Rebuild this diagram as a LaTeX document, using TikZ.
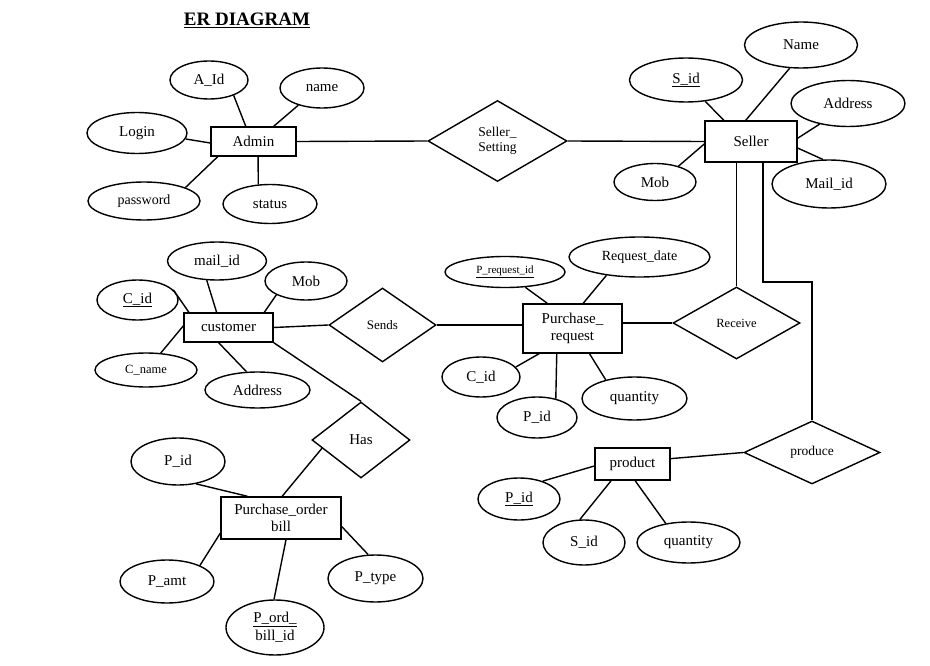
\documentclass[tikz,border=0pt]{standalone}
\usepackage{fontspec}
\setmainfont{Liberation Serif}
\usetikzlibrary{shapes.geometric}
\begin{document}
\begin{tikzpicture}[x=1pt,y=-1pt,line width=1.4pt,
  every node/.style={font=\fontsize{15}{17}\selectfont},
  fs/.style={font=\fontsize{#1}{15}\selectfont},
  dims/.style 2 args={minimum width=#1pt, minimum height=#2pt},
  ent/.style={draw, rectangle, inner sep=0pt, align=center},
  attr/.style={draw, ellipse, inner sep=0pt, align=center},
  rel/.style={draw, diamond, inner sep=0pt, aspect=1.7, align=center}]
\useasboundingbox (0,0) rectangle (930,666);

% title
\node[font=\fontsize{19}{21}\selectfont\bfseries] (title) at (247,20) {\underline{ER DIAGRAM}};

% Admin
\node[ent, dims={85}{29}] (admin) at (253.5,141.5) {Admin};
\node[attr, dims={78}{38}] (aid) at (209,80) {A\_Id};
\node[attr, dims={84}{40}] (aname) at (322,88) {name};
\node[attr, dims={100}{41}] (login) at (137,133) {Login};
\node[attr, dims={112}{38}, fs=14] (apass) at (144,201) {password};
\node[attr, dims={94}{39}] (astatus) at (270,204) {status};
\node[rel, dims={139}{81}, fs=13.5, align=left] (sset) at (497.5,141) {Seller\_\\Setting};

% Seller
\node[ent, dims={92}{41}] (seller) at (751,141.5) {Seller};
\node[attr, dims={113}{44}] (sid) at (686,80) {\underline{S\_id}};
\node[attr, dims={113}{46}] (sname) at (801,45) {Name};
\node[attr, dims={114}{46}] (saddr) at (848,103.5) {Address};
\node[attr, dims={82}{37}] (smob) at (655,182) {Mob};
\node[attr, dims={114}{48}] (smail) at (829,184) {Mail\_id};

% customer
\node[ent, dims={89}{29}] (customer) at (228.5,327.5) {customer};
\node[attr, dims={99}{38}] (cmail) at (217,261) {mail\_id};
\node[attr, dims={82}{38}] (cmob) at (306,281) {Mob};
\node[attr, dims={81}{40}] (cid) at (137.5,300) {\underline{C\_id}};
\node[attr, dims={102}{34}, fs=12.5] (cname) at (146,370) {C\_name};
\node[attr, dims={105}{36}] (caddr) at (257.5,390) {Address};
\node[rel, dims={107}{74}, fs=13] (sends) at (382.5,325) {Sends};

% Purchase request
\node[ent, dims={99}{49}] (preq) at (572.5,328.5) {Purchase\_\\request};
\node[attr, dims={120}{31}, fs=11] (prid) at (505,272) {\underline{P\_request\_id}};
\node[attr, dims={141}{40}, fs=14] (prdate) at (639.5,257) {Request\_date};
\node[attr, dims={78}{40}] (prcid) at (481,377) {C\_id};
\node[attr, dims={80}{41}] (prpid) at (537,417.5) {P\_id};
\node[attr, dims={105}{43}] (prqty) at (634.5,398.5) {quantity};
\node[rel, dims={127}{72}, fs=12.5] (receive) at (736.5,323) {Receive};

% Has / Purchase order bill
\node[rel, dims={98}{76}] (has) at (361,440) {Has};
\node[ent, dims={120}{42}] (pob) at (281,518) {Purchase\_order\\bill};
\node[attr, dims={94}{47}] (opid) at (178,461.5) {P\_id};
\node[attr, dims={94}{43}] (oamt) at (167,581.5) {P\_amt};
\node[attr, dims={95}{47}] (otype) at (375.5,578.5) {P\_type};
\node[attr, dims={98}{55}, font=\fontsize{15}{18}\selectfont] (obid) at (275,627.5) {\underline{P\_ord\_}\\bill\_id};

% product
\node[ent, dims={75}{32}] (product) at (632.5,464) {product};
\node[rel, dims={136}{63}, fs=13.5] (produce) at (812,452.5) {produce};
\node[attr, dims={82}{42}] (tpid) at (519,499) {\underline{P\_id}};
\node[attr, dims={82}{45}] (tsid) at (584,542.5) {S\_id};
\node[attr, dims={103}{41}] (tqty) at (688.5,542.5) {quantity};

% Admin links
\draw (aid.-32) -- (admin.117);
\draw (aname.216) -- (admin.37);
\draw (login.-7) -- (admin.182);
\draw (apass.18) -- (admin.203);
\draw (astatus.121) -- (admin.-73);
\draw (admin.east) -- (sset.west);
\draw (sset.east) -- (seller.west);

% Seller links
\draw (sid.-48) -- (seller.142);
\draw (sname.-116) -- (seller.104);
\draw (saddr.216) -- (seller.4);
\draw (smob.34) -- (seller.183);
\draw (smail.104) -- (seller.-8);
\draw (seller.south -| receive.north) -- (receive.north);
\coordinate (bend) at (763,282);
\draw (seller.south -| bend) -- (bend) -| (produce.north);

% customer links
\draw (cmail.-118) -- (customer.128);
\draw (cmob.205) -- (customer.23);
\draw (cid.16) -- (customer.159);
\draw (cname.49) -- (customer.178);
\draw (caddr.121) -- (customer.237);
\draw (customer.east) -- (sends.west);
\draw (customer.south east) -- (has.north);
\draw (sends.east) -- (sends.east -| preq.west);

% Purchase request links
\draw (prid.-37) -- (preq.135);
\draw (prdate.209) -- (preq.67);
\draw (prcid.16) -- (preq.217);
\draw (prpid.45) -- (preq.238);
\draw (prqty.147) -- (preq.-56);
\draw (receive.west -| preq.east) -- (receive.west);

% Purchase order links
\draw (has.192) -- (pob.87);
\draw (opid.-51) -- (pob.147);
\draw (oamt.26) -- (pob.194);
\draw (obid.92) -- (pob.-77);
\draw (otype.107) -- (pob.-8);

% product links
\draw (product.8) -- (produce.west);
\draw (tpid.37) -- (product.183);
\draw (tsid.100) -- (product.218);
\draw (tqty.140) -- (product.-81);
\end{tikzpicture}
\end{document}
